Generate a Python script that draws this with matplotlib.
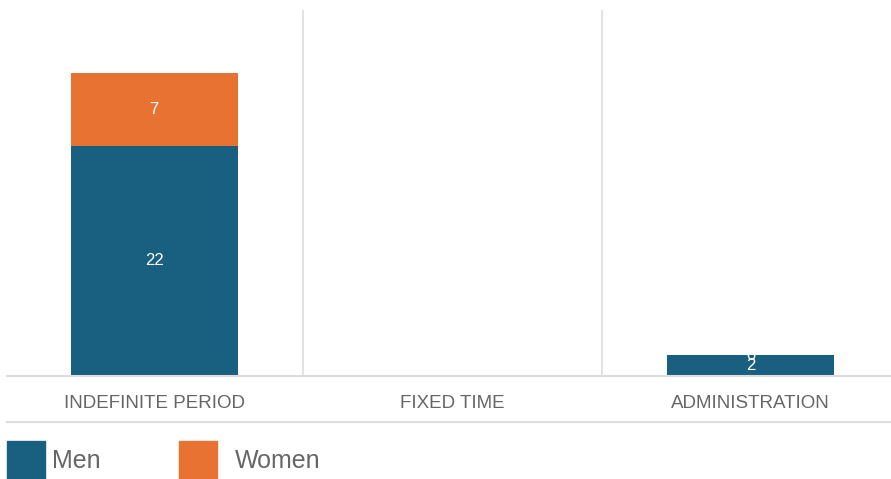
import matplotlib.pyplot as plt
from matplotlib.patches import Rectangle
from matplotlib.lines import Line2D
import numpy as np

categories = ['INDEFINITE PERIOD', 'FIXED TIME', 'ADMINISTRATION']
men = [22, 0, 2]
women = [7, 0, 0]

men_color = '#185f80'
women_color = '#e87232'
grey = '#666666'
rule = '#dddddd'

plt.rcParams['font.family'] = ['Liberation Sans', 'DejaVu Sans']

W, H = 891, 479
fig = plt.figure(figsize=(W / 100, H / 100), dpi=100)
ax = fig.add_axes([5 / W, 103 / H, 895 / W, 366 / H])

x = np.arange(len(categories))
w = 0.56
b1 = ax.bar(x, men, w, color=men_color, zorder=2)
b2 = ax.bar(x, women, w, bottom=men, color=women_color, zorder=2)

for bars, vals, base in ((b1, men, [0] * 3), (b2, women, men)):
    for rect, v, b in zip(bars, vals, base):
        ax.text(rect.get_x() + rect.get_width() / 2, b + v / 2, str(v),
                ha='center', va='center', color='white', fontsize=12,
                zorder=3)

ax.set_xlim(-0.5, 2.5)
ax.set_ylim(0, 35)
for sep in (0.5, 1.5):
    ax.axvline(sep, color=rule, lw=1.2, zorder=1)

for s in ax.spines.values():
    s.set_visible(False)
ax.set_yticks([])
ax.set_xticks(x)
ax.set_xticklabels(categories, color=grey, fontsize=13.5)
ax.tick_params(axis='x', length=0, pad=14)

# baseline and the rule under the category labels
for ypix in (376, 422):
    fig.add_artist(Line2D([7 / W, 1], [1 - ypix / H] * 2,
                          color=rule, lw=1.5, zorder=5))

# legend: coloured squares with labels beside them
for x0, tx, color, label in ((7, 52, men_color, 'Men'),
                             (179, 235, women_color, 'Women')):
    fig.add_artist(Rectangle((x0 / W, 0), 38 / W, 38 / H,
                             color=color, transform=fig.transFigure))
    fig.text(tx / W, 1 - 461 / H, label, color=grey, fontsize=18,
             ha='left', va='center')

fig.savefig('out.png', dpi=100)
